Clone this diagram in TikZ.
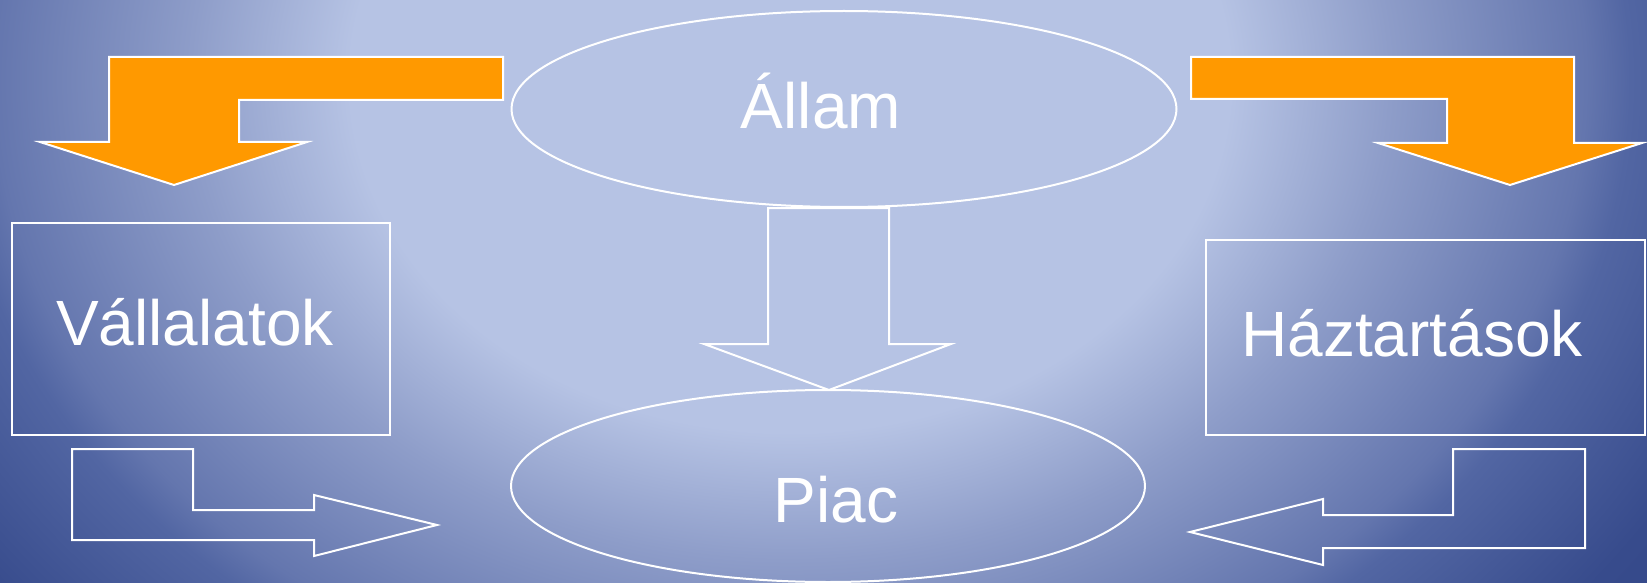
\documentclass[tikz,border=0pt]{standalone}
\usepackage{fontspec}
\setmainfont{Liberation Sans}
\usepackage{tikz}
\usetikzlibrary{shapes.geometric}
\usetikzlibrary{scopes}

\definecolor{bglight}{HTML}{B6C3E4}
\definecolor{bgmid}{HTML}{8E9DC9}
\definecolor{bgedge}{HTML}{6476AE}
\definecolor{bgside}{HTML}{5266A3}
\definecolor{bgdark}{HTML}{374B8C}
\definecolor{bgdeep}{HTML}{2C3F80}
\definecolor{flowor}{HTML}{FF9900}

\pgfdeclareradialshading{slidebg}{\pgfpoint{0bp}{0bp}}{%
  color(0bp)=(bglight); color(11bp)=(bglight); color(15bp)=(bgmid);
  color(19.9bp)=(bgedge); color(21bp)=(bgside); color(25.5bp)=(bgdark);
  color(34bp)=(bgdeep)}

\begin{document}
\begin{tikzpicture}[x=1pt,y=-1pt]
\useasboundingbox (0,0) rectangle (1647,583);
\begin{scope}
    \clip (0,0) rectangle (1647,583);
    \shade[shading=slidebg] (-210,-720) rectangle (1790,880);
\end{scope}

% orange flows from the state
\begin{scope}[fill=flowor,draw=white,line width=2pt]
    \filldraw (503,57) -- (109,57) -- (109,142) -- (40,142) -- (174,185)
        -- (307,142) -- (239,142) -- (239,100) -- (503,100) -- cycle;
    \filldraw (1191,57) -- (1574,57) -- (1574,143) -- (1642,143) -- (1510,185)
        -- (1378,143) -- (1447,143) -- (1447,99) -- (1191,99) -- cycle;
\end{scope}

\begin{scope}[every node/.style={draw=white,line width=2pt,inner sep=0pt,outer sep=0pt}]
    \node[ellipse,minimum width=665,minimum height=196] (allam) at (844,109) {};
    \node[ellipse,minimum width=634,minimum height=192] (piac) at (828,486) {};
    \node[rectangle,minimum width=378,minimum height=212] (vall) at (201,329) {};
    \node[rectangle,minimum width=439,minimum height=195] (haz) at (1425,337) {};
\end{scope}

\begin{scope}[every node/.style={text=white,anchor=base,inner sep=0pt,
              font=\fontsize{64}{70}\selectfont}]
    \node (allamtxt) at (821,129) {Állam};
    \node (piactxt) at (836,522) {Piac};
    \node (valltxt) at (195,345) {Vállalatok};
    \node (haztxt) at (1412,356) {Háztartások};
\end{scope}

% hollow flows
\begin{scope}[draw=white,line width=2pt]
    \draw (768,208) -- (889,208) -- (889,344) -- (951,344) -- (829,390)
        -- (704,344) -- (768,344) -- cycle;
    \draw (72,449) -- (193,449) -- (193,510) -- (314,510) -- (314,495)
        -- (437,525) -- (314,556) -- (314,540) -- (72,540) -- cycle;
    \draw (1585,449) -- (1453,449) -- (1453,515) -- (1323,515) -- (1323,499)
        -- (1190,532) -- (1323,565) -- (1323,548) -- (1585,548) -- cycle;
\end{scope}
\end{tikzpicture}
\end{document}
